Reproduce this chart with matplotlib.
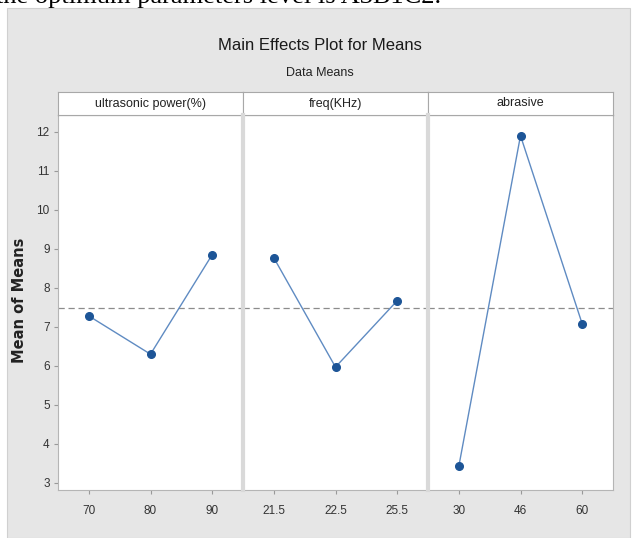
import matplotlib.pyplot as plt
from matplotlib.patches import Rectangle

# factor levels and the mean of means at each level
factors = ['ultrasonic power(%)', 'freq(KHz)', 'abrasive']
levels = [['70', '80', '90'], ['21.5', '22.5', '25.5'], ['30', '46', '60']]
means = [[7.28, 6.30, 8.85], [8.77, 5.97, 7.67], [3.43, 11.90, 7.08]]
grand_mean = 7.49

W, H = 637, 538
fig = plt.figure(figsize=(W / 100, H / 100), dpi=100)
fig.patch.set_facecolor('white')

narrow = ['Liberation Sans Narrow', 'Liberation Sans', 'DejaVu Sans']

# gray frame behind the whole chart
fig.patches.append(Rectangle((7 / W, 0), 623 / W, 1 - 8 / H, transform=fig.transFigure,
                             facecolor='#e6e6e6', edgecolor='#d0d0d0', lw=0.8, zorder=-10))

# caption of the page text above the chart, cut at the top
fig.text(-0.006, 1 - 2.5 / H, 'the optimum parameters level is A3B1C2.',
         family='Liberation Serif', fontsize=19, va='baseline', ha='left')

fig.text(320 / W, 1 - 45 / H, 'Main Effects Plot for Means', family=narrow,
         fontsize=12, ha='center', va='center', color='#1a1a1a')
fig.text(320 / W, 1 - 73 / H, 'Data Means', family=narrow,
         fontsize=9, ha='center', va='center', color='#222222')

left, pw = 58, 185
bottom, top, head = 490, 115, 92
axes = []
for i in range(3):
    x0 = (left + i * pw) / W
    ax = fig.add_axes([x0, 1 - bottom / H, pw / W, (bottom - top) / H],
                      sharey=axes[0] if axes else None)
    axes.append(ax)
    ax.set_facecolor('white')
    x = [1, 2, 3]
    ax.plot(x, means[i], color='#5f8bc2', lw=1.0, zorder=3)
    ax.plot(x, means[i], 'o', color='#1d5597', ms=5.5, zorder=4)
    ax.axhline(grand_mean, color='#8c8c8c', ls=(0, (5, 3)), lw=0.9, zorder=2)
    ax.set_xlim(0.5, 3.5)
    ax.set_xticks(x)
    ax.set_xticklabels(levels[i], family=narrow, fontsize=8.5, color='#333333')
    ax.tick_params(axis='x', length=3, color='#999999', pad=8)
    for s in ax.spines.values():
        s.set_color('#b5b5b5')
        s.set_linewidth(0.8)
    ax.spines['top'].set_color('#6a6a6a')

    # header strip with the factor name
    hax = fig.add_axes([x0, 1 - top / H, pw / W, (top - head) / H])
    hax.set_facecolor('white')
    hax.set_xticks([])
    hax.set_yticks([])
    for s in hax.spines.values():
        s.set_color('#a8a8a8')
        s.set_linewidth(0.8)
    hax.text(0.5, 0.5, factors[i], family=narrow, fontsize=9, ha='center',
             va='center', color='#222222', transform=hax.transAxes)

axes[0].set_ylim(2.82, 12.43)
axes[0].set_yticks(range(3, 13))
axes[0].set_yticklabels([str(v) for v in range(3, 13)], family=narrow,
                        fontsize=8.5, color='#333333')
axes[0].tick_params(axis='y', length=3, color='#999999', pad=3)
for ax in axes[1:]:
    ax.tick_params(axis='y', left=False, labelleft=False)

# thick gray separators between the panels
for i in (1, 2):
    xs = (left + i * pw) / W
    fig.add_artist(plt.Line2D([xs, xs], [1 - bottom / H, 1 - top / H],
                              transform=fig.transFigure, color='#d9d9d9', lw=3, zorder=5))

fig.text(20 / W, 1 - 300 / H, 'Mean of Means', rotation=90, fontsize=10.5,
         fontweight='bold', family='DejaVu Sans', ha='center', va='center', color='#222222')

fig.savefig('out.png', dpi=100)
